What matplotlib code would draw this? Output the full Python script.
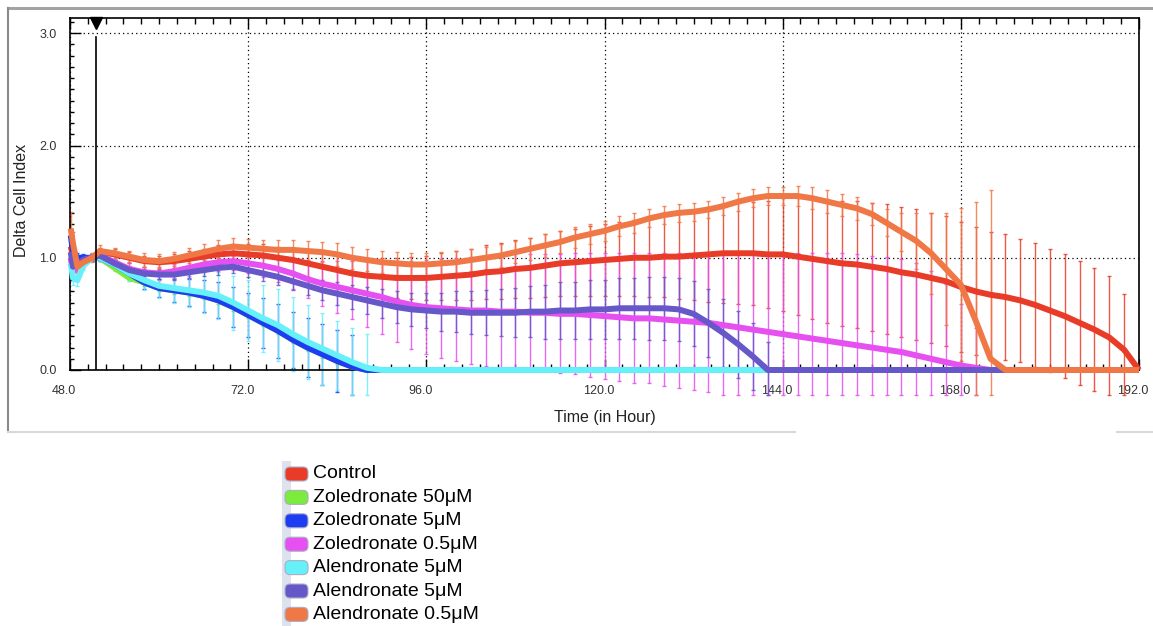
import matplotlib
matplotlib.use("Agg")
import numpy as np
import matplotlib.pyplot as plt
from matplotlib.patches import FancyBboxPatch, Rectangle
from matplotlib.lines import Line2D
from matplotlib.ticker import MultipleLocator, FormatStrFormatter
from matplotlib.transforms import ScaledTranslation, IdentityTransform

plt.rcParams['font.family'] = ['Liberation Sans', 'DejaVu Sans']

# ---------------- data ----------------
hours = [48.1, 48.4, 49.0, 49.8, 51.0] + list(range(52, 193, 2))
treatment_time = 51.5

series_names = ["Control", "Zoledronate 50\u03bcM", "Zoledronate 5\u03bcM", "Zoledronate 0.5\u03bcM",
                "Alendronate 5\u03bcM", "Alendronate 5\u03bcM", "Alendronate 0.5\u03bcM"]
series_colors = ["#E83C28", "#7CEB3C", "#1E3CF0", "#E650F0", "#66F0FA", "#6658C8", "#F07846"]

control = ([1.10, 1.02, 0.95, 0.98, 1.00] +
           [1.05, 1.03, 1.00, 0.97, 0.96, 0.97, 0.99, 1.01, 1.03, 1.04] +
           [1.03, 1.02, 1.00, 0.98, 0.95, 0.92, 0.89, 0.86, 0.84, 0.83] +
           [0.82, 0.82, 0.82, 0.83, 0.84, 0.85, 0.87, 0.88, 0.90, 0.91] +
           [0.93, 0.95, 0.96, 0.97, 0.98, 0.99, 1.00, 1.00, 1.01, 1.01] +
           [1.02, 1.03, 1.04, 1.04, 1.04, 1.03, 1.03, 1.01, 0.99, 0.97] +
           [0.95, 0.94, 0.92, 0.90, 0.87, 0.85, 0.82, 0.79, 0.74, 0.70] +
           [0.67, 0.65, 0.62, 0.58, 0.53, 0.48, 0.42, 0.36, 0.29, 0.18] +
           [0.00])
control_err = ([0.12, 0.08, 0.05, 0.04, 0.03] +
               [0.04, 0.05, 0.05, 0.05, 0.06, 0.06, 0.07, 0.07, 0.08, 0.08] +
               [0.09, 0.10, 0.10, 0.11, 0.12, 0.13, 0.14, 0.15, 0.16, 0.17] +
               [0.18, 0.19, 0.20, 0.21, 0.22, 0.23, 0.24, 0.25, 0.26, 0.27] +
               [0.28, 0.29, 0.30, 0.31, 0.32, 0.33, 0.34, 0.35, 0.36, 0.38] +
               [0.40, 0.42, 0.44, 0.45, 0.46, 0.48, 0.50, 0.52, 0.54, 0.55] +
               [0.56, 0.57, 0.57, 0.58, 0.58, 0.58, 0.58, 0.58, 0.58, 0.57] +
               [0.56, 0.56, 0.55, 0.55, 0.55, 0.55, 0.55, 0.55, 0.55, 0.50] +
               [0.00])

zol50 = ([1.00, 0.92, 0.94, 0.98, 1.00] +
         [1.00, 0.91, 0.82, 0.78, 0.73, 0.71, 0.69, 0.66, 0.62, 0.56] +
         [0.49, 0.42, 0.35, 0.27, 0.20, 0.14, 0.08, 0.03, 0.00, 0.00] +
         [0.00] * 51)
zol50_err = ([0.05, 0.04, 0.03, 0.03, 0.03] +
             [0.03, 0.03, 0.03, 0.03, 0.03, 0.03, 0.03, 0.03, 0.03, 0.03] +
             [0.03, 0.03, 0.03, 0.03, 0.03, 0.03, 0.03, 0.03, 0.00, 0.00] +
             [0.00] * 51)

zol5 = ([1.20, 1.06, 1.00, 1.00, 1.00] +
        [1.00, 0.94, 0.86, 0.78, 0.73, 0.71, 0.69, 0.66, 0.62, 0.56] +
        [0.49, 0.42, 0.35, 0.27, 0.20, 0.14, 0.08, 0.03, 0.00, 0.00] +
        [0.00] * 51)
zol5_err = ([0.06, 0.05, 0.04, 0.03, 0.03] +
            [0.03, 0.04, 0.05, 0.06, 0.08, 0.10, 0.12, 0.14, 0.16, 0.18] +
            [0.20, 0.22, 0.24, 0.25, 0.26, 0.27, 0.28, 0.28, 0.00, 0.00] +
            [0.00] * 51)

zol05 = ([1.00, 0.88, 0.92, 0.98, 1.00] +
         [1.02, 0.96, 0.90, 0.87, 0.86, 0.88, 0.91, 0.94, 0.96, 0.97] +
         [0.95, 0.93, 0.90, 0.86, 0.81, 0.77, 0.74, 0.71, 0.68, 0.65] +
         [0.61, 0.58, 0.56, 0.55, 0.54, 0.53, 0.53, 0.52, 0.52, 0.51] +
         [0.51, 0.50, 0.50, 0.49, 0.48, 0.47, 0.46, 0.46, 0.45, 0.44] +
         [0.43, 0.42, 0.40, 0.38, 0.36, 0.34, 0.32, 0.30, 0.28, 0.26] +
         [0.24, 0.22, 0.20, 0.18, 0.16, 0.13, 0.10, 0.07, 0.04, 0.02] +
         [0.00] * 10 +
         [0.00])
zol05_err = ([0.08, 0.06, 0.05, 0.04, 0.03] +
             [0.04, 0.04, 0.05, 0.05, 0.06, 0.06, 0.07, 0.07, 0.08, 0.08] +
             [0.09, 0.10, 0.12, 0.14, 0.17, 0.20, 0.23, 0.26, 0.30, 0.33] +
             [0.36, 0.39, 0.42, 0.44, 0.46, 0.48, 0.49, 0.50, 0.51, 0.52] +
             [0.52, 0.53, 0.54, 0.55, 0.56, 0.57, 0.58, 0.58, 0.59, 0.60] +
             [0.61, 0.62, 0.64, 0.66, 0.68, 0.70, 0.72, 0.74, 0.76, 0.78] +
             [0.80, 0.81, 0.82, 0.83, 0.83, 0.82, 0.78, 0.70, 0.55, 0.35] +
             [0.00] * 10 +
             [0.00])

ale5_a = ([0.95, 0.82, 0.80, 0.93, 1.00] +
          [1.00, 0.94, 0.86, 0.80, 0.75, 0.73, 0.71, 0.69, 0.66, 0.60] +
          [0.53, 0.46, 0.40, 0.32, 0.25, 0.19, 0.13, 0.07, 0.02, 0.00] +
          [0.00] * 51)
ale5_a_err = ([0.08, 0.06, 0.05, 0.04, 0.03] +
              [0.03, 0.05, 0.07, 0.09, 0.11, 0.13, 0.15, 0.18, 0.21, 0.24] +
              [0.27, 0.30, 0.32, 0.33, 0.33, 0.32, 0.31, 0.30, 0.30, 0.00] +
              [0.00] * 51)

ale5_b = ([1.05, 0.92, 0.95, 0.98, 1.00] +
          [1.02, 0.95, 0.89, 0.86, 0.85, 0.85, 0.87, 0.89, 0.91, 0.92] +
          [0.89, 0.86, 0.83, 0.79, 0.75, 0.71, 0.68, 0.65, 0.62, 0.59] +
          [0.56, 0.54, 0.53, 0.52, 0.52, 0.51, 0.51, 0.51, 0.51, 0.52] +
          [0.52, 0.53, 0.53, 0.54, 0.54, 0.55, 0.55, 0.55, 0.55, 0.54] +
          [0.50, 0.42, 0.33, 0.23, 0.12, 0.00, 0.00, 0.00, 0.00, 0.00] +
          [0.00] * 20 +
          [0.00])
ale5_b_err = ([0.06, 0.05, 0.04, 0.03, 0.03] +
              [0.03, 0.03, 0.04, 0.04, 0.04, 0.05, 0.05, 0.05, 0.06, 0.06] +
              [0.06, 0.07, 0.07, 0.08, 0.08, 0.09, 0.10, 0.11, 0.12, 0.13] +
              [0.14, 0.15, 0.16, 0.17, 0.18, 0.19, 0.20, 0.21, 0.22, 0.23] +
              [0.24, 0.25, 0.25, 0.26, 0.26, 0.27, 0.27, 0.28, 0.28, 0.28] +
              [0.29, 0.30, 0.30, 0.30, 0.30, 0.25, 0.00, 0.00, 0.00, 0.00] +
              [0.00] * 20 +
              [0.00])

ale05 = ([1.26, 1.13, 0.92, 0.96, 1.00] +
         [1.06, 1.04, 1.01, 0.98, 0.97, 0.99, 1.02, 1.05, 1.08, 1.10] +
         [1.09, 1.08, 1.07, 1.07, 1.06, 1.05, 1.03, 1.00, 0.98, 0.96] +
         [0.95, 0.94, 0.94, 0.95, 0.96, 0.98, 1.00, 1.02, 1.05, 1.08] +
         [1.11, 1.14, 1.18, 1.21, 1.24, 1.28, 1.31, 1.35, 1.38, 1.40] +
         [1.41, 1.43, 1.46, 1.50, 1.53, 1.55, 1.55, 1.55, 1.53, 1.50] +
         [1.47, 1.44, 1.39, 1.31, 1.23, 1.15, 1.04, 0.90, 0.76, 0.44] +
         [0.10, 0.00, 0.00, 0.00, 0.00, 0.00, 0.00, 0.00, 0.00, 0.00] +
         [0.00])
ale05_err = ([0.15, 0.10, 0.06, 0.05, 0.04] +
             [0.05, 0.05, 0.05, 0.06, 0.06, 0.06, 0.07, 0.07, 0.08, 0.08] +
             [0.08, 0.08, 0.09, 0.09, 0.09, 0.09, 0.10, 0.10, 0.10, 0.10] +
             [0.10, 0.10, 0.10, 0.10, 0.10, 0.10, 0.10, 0.10, 0.10, 0.10] +
             [0.10, 0.10, 0.09, 0.09, 0.09, 0.09, 0.09, 0.08, 0.08, 0.08] +
             [0.08, 0.08, 0.08, 0.08, 0.08, 0.08, 0.08, 0.09, 0.10, 0.10] +
             [0.10, 0.10, 0.10, 0.12, 0.17, 0.25, 0.36, 0.50, 0.68, 1.06] +
             [1.50, 0.00, 0.00, 0.00, 0.00, 0.00, 0.00, 0.00, 0.00, 0.00] +
             [0.00])

series_values = [control, zol50, zol5, zol05, ale5_a, ale5_b, ale05]
series_errors = [control_err, zol50_err, zol5_err, zol05_err, ale5_a_err, ale5_b_err, ale05_err]

x_major = [48, 72, 96, 120, 144, 168, 192]
x_labels = ["48.0", "72.0", "96.0", "120.0", "144.0", "168.0", "192.0"]

# ---------------- figure ----------------
W, H = 1153, 626
fig = plt.figure(figsize=(W / 100, H / 100), dpi=100)
ax = fig.add_axes([70 / W, 1 - 370 / H, (1139 - 70) / W, (370 - 18) / H])

t = np.array(hours, dtype=float)
for vals, errs, col in zip(series_values, series_errors, series_colors):
    v = np.array(vals)
    e = np.array(errs)
    m = e > 0
    lower = np.minimum(e, v + 0.22)
    cont = ax.errorbar(t[m], v[m], yerr=[lower[m], e[m]], fmt='none', ecolor=col,
                       elinewidth=1.0, capsize=1.6, capthick=1.0, alpha=0.85, zorder=2)
    for art in list(cont.lines[1]) + list(cont.lines[2]):
        art.set_clip_on(False)

for vals, col in zip(series_values, series_colors):
    ax.plot(t, vals, color=col, lw=4.3, zorder=3, clip_on=False,
            solid_joinstyle='round', solid_capstyle='butt')

# treatment marker
ax.plot([treatment_time, treatment_time], [0, 2.97], color='black', lw=1.2, zorder=4)
ax.plot([treatment_time], [3.095], marker='v', color='black', markersize=9, clip_on=False, zorder=5)

ax.set_xlim(48, 192)
ax.set_ylim(0, 3.136)
ax.set_xticks(x_major)
ax.set_xticklabels(x_labels)
ax.xaxis.set_minor_locator(MultipleLocator(2.4))
ax.yaxis.set_major_locator(MultipleLocator(1.0))
ax.yaxis.set_minor_locator(MultipleLocator(0.1))
ax.yaxis.set_major_formatter(FormatStrFormatter('%.1f'))

ax.grid(which='major', linestyle=(0, (1, 2.5)), color='black', lw=0.9)
ax.set_axisbelow(True)

ax.tick_params(which='both', direction='in', top=True, right=False, color='black', width=1,
               labelsize=9, labelcolor='#333333')
ax.tick_params(axis='x', which='major', length=8, pad=11)
ax.tick_params(axis='x', which='minor', length=4.5)
ax.tick_params(axis='y', which='major', length=8, pad=9.5)
ax.tick_params(axis='y', which='minor', length=3)

for tk in ax.xaxis.get_major_ticks():
    tk.label1.set_transform(tk.label1.get_transform() +
                            ScaledTranslation(-0.06, 0, fig.dpi_scale_trans))

for sp in ax.spines.values():
    sp.set_color('black')
    sp.set_linewidth(1.2)

ax.set_xlabel("Time (in Hour)", fontsize=11.5, color='#222222')
ax.set_ylabel("Delta Cell Index", fontsize=11.5, color='#222222')
ax.xaxis.set_label_coords(0.5, -0.134)
ax.xaxis.label.set_va('center')
ax.yaxis.set_label_coords(-0.045, 0.483)
ax.yaxis.label.set_va('center')

# window frame lines
idt = IdentityTransform()
fig.add_artist(Line2D([8, W], [H - 8, H - 8], color='#a3a3a3', lw=2.2, transform=idt))
fig.add_artist(Line2D([8, 8], [H - 8, H - 432], color='#8a8a8a', lw=1.5, transform=idt))
fig.add_artist(Line2D([8, 795], [H - 432, H - 432], color='#d8d8d8', lw=1.5, transform=idt))
fig.add_artist(Line2D([1117, W], [H - 432, H - 432], color='#d8d8d8', lw=1.5, transform=idt))

# legend
fig.add_artist(Rectangle((282, 0), 9, H - 461, facecolor='#dde2ee', edgecolor='none', transform=idt))
for i, (name, col) in enumerate(zip(series_names, series_colors)):
    yc = H - (474 + 23.4 * i)
    fig.add_artist(FancyBboxPatch((285, yc - 7), 23, 14,
                                  boxstyle="round,pad=0,rounding_size=5",
                                  facecolor=col, edgecolor='#a8b0c4', lw=0.8, transform=idt))
    fig.text(313, yc, name, transform=idt, fontsize=14, va='center', ha='left', color='black')

fig.savefig("out.png", dpi=100)
